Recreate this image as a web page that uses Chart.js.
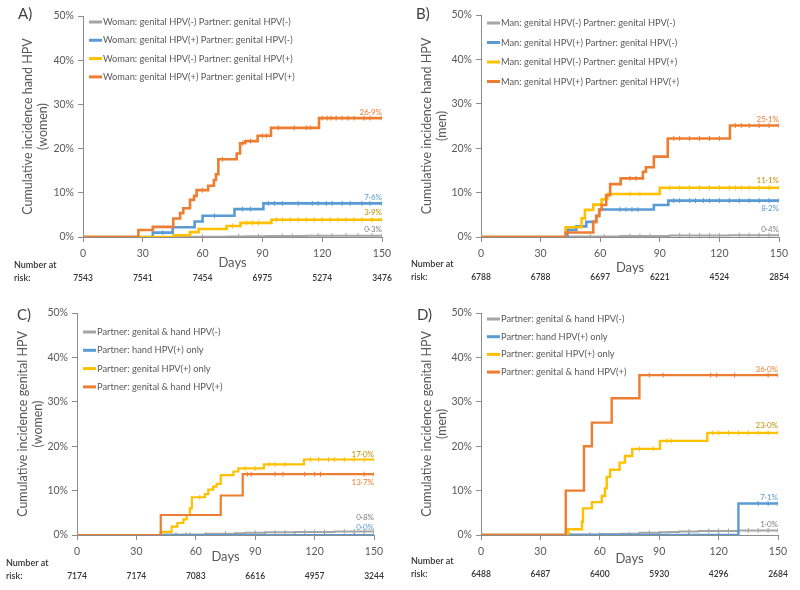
<!DOCTYPE html>
<html>
<head>
<meta charset="utf-8">
<title>Cumulative incidence of hand and genital HPV</title>
<script src="https://cdn.jsdelivr.net/npm/chart.js@4.4.1/dist/chart.umd.min.js"></script>
<style>
  body { margin: 0; background: #fff; width: 800px; height: 590px; position: relative; overflow: hidden; }
  .panel { position: absolute; width: 400px; height: 295px; }
</style>
</head>
<body>
<div class="panel" style="left:0;top:0"><canvas id="chartA"></canvas></div>
<div class="panel" style="left:400px;top:0"><canvas id="chartB"></canvas></div>
<div class="panel" style="left:0;top:295px"><canvas id="chartC"></canvas></div>
<div class="panel" style="left:400px;top:295px"><canvas id="chartD"></canvas></div>
<script>
// shared axis values
const dayTicks = [0, 30, 60, 90, 120, 150];
const pctTicks = [0, 10, 20, 30, 40, 50];

// A) women, hand HPV - [day, cumulative %]
const namesA = ['Woman: genital HPV(-) Partner: genital HPV(-)', 'Woman: genital HPV(+) Partner: genital HPV(-)',
                'Woman: genital HPV(-) Partner: genital HPV(+)', 'Woman: genital HPV(+) Partner: genital HPV(+)'];
const grayA = [[0,0],[45,0.05],[52,0.05],[60,0.05],[72,0.1],[78,0.1],[82,0.15],[88,0.15],[92,0.2],[96,0.25],[100,0.25],[105,0.25],
               [112,0.3],[118,0.3],[125,0.3],[132,0.3],[138,0.3],[145,0.3],[150,0.3]];
const blueA = [[0,0],[35,1.0],[40,1.0],[45,2.2],[56,3.5],[60,4.8],[66,4.8],[76,6.3],[80,6.3],[84,6.3],[90.5,7.6],[93,7.6],[96,7.6],
               [100,7.6],[108,7.6],[115,7.6],[118,7.6],[122,7.6],[125,7.6],[130,7.6],[134,7.6],[140,7.6],[144,7.6],[150,7.6]];
const yellowA = [[0,0],[45.5,0.4],[53.7,1.1],[58,1.8],[72,2.5],[75,2.5],[79,3.2],[82,3.2],[85,3.2],[88,3.2],[94.5,3.9],[97,3.9],
                 [100,3.9],[104,3.9],[108,3.9],[112,3.9],[116,3.9],[120,3.9],[124,3.9],[128,3.9],[132,3.9],[136,3.9],[140,3.9],[145,3.9],[150,3.9]];
const orangeA = [[0,0],[27.8,1.6],[35,2.3],[45.3,4.2],[48.7,5.4],[50.3,6.5],[53.7,8.4],[55.7,9.3],[57,10.6],[60,10.6],[62.8,11.6],
                 [65.7,12.9],[66.7,14.2],[67.9,17.6],[70,17.6],[77.1,18.9],[78.8,21.2],[80,21.2],[81.3,21.7],[84,21.7],[87.6,22.9],
                 [90,22.9],[92,22.9],[94.3,24.7],[98,24.7],[106,24.7],[112,24.7],[114,24.7],[118.4,26.9],[120,26.9],[122.5,26.9],
                 [124.5,26.9],[127,26.9],[130,26.9],[133,26.9],[136,26.9],[141,26.9],[144,26.9],[150,26.9]];
const endA = ['0·3%', '7·6%', '3·9%', '26·9%'];
const riskA = [7543, 7541, 7454, 6975, 5274, 3476];

// B) men, hand HPV
const namesB = ['Man: genital HPV(-) Partner: genital HPV(-)', 'Man: genital HPV(+) Partner: genital HPV(-)',
                'Man: genital HPV(-) Partner: genital HPV(+)', 'Man: genital HPV(+) Partner: genital HPV(+)'];
const grayB = [[0,0],[43,0.1],[55,0.1],[62,0.1],[70,0.2],[75,0.2],[80,0.2],[85,0.2],[95,0.35],[100,0.35],[105,0.35],[110,0.35],
               [115,0.35],[120,0.35],[125,0.4],[130,0.4],[135,0.4],[140,0.4],[145,0.4],[150,0.4]];
const blueB = [[0,0],[43.5,1.6],[48,2.4],[53,3.4],[58,4.8],[59.5,6.2],[70,6.2],[73,6.2],[76,6.2],[79,6.2],[87,7.2],[94.3,8.2],
               [97,8.2],[100,8.2],[105,8.2],[108,8.2],[112,8.2],[115,8.2],[120,8.2],[125,8.2],[130,8.2],[135,8.2],[140,8.2],[145,8.2],[150,8.2]];
const yellowB = [[0,0],[42.6,2.2],[50.6,4.2],[52.3,6.1],[56.5,7.3],[60.7,8.5],[63.6,9.7],[75,9.7],[80,9.7],[90,11.1],[95,11.1],
                 [100,11.1],[105,11.1],[110,11.1],[115,11.1],[120,11.1],[125,11.1],[128,11.1],[131,11.1],[135,11.1],[140,11.1],[145,11.1],[150,11.1]];
const orangeB = [[0,0],[42.6,1.0],[56.5,3.4],[58,4.7],[59.5,6.1],[60.7,7.2],[63,9.4],[65,11.9],[70.3,13.2],[75,13.2],[78,13.2],
                 [81.5,14.7],[83,15.7],[87,18.1],[94,22.2],[97,22.2],[100,22.2],[105,22.2],[110,22.2],[115,22.2],[120,22.2],
                 [125.3,25.1],[128,25.1],[131,25.1],[135,25.1],[140,25.1],[145,25.1],[150,25.1]];
const endB = ['0·4%', '8·2%', '11·1%', '25·1%'];
const riskB = [6788, 6788, 6697, 6221, 4524, 2854];

// C) women, genital HPV
const namesC = ['Partner: genital & hand HPV(-)', 'Partner: hand HPV(+) only', 'Partner: genital HPV(+) only', 'Partner: genital & hand HPV(+)'];
const grayC = [[0,0],[42,0.1],[50,0.1],[57,0.1],[65,0.3],[75,0.3],[80,0.4],[85,0.5],[90,0.5],[95,0.6],[100,0.6],[105,0.6],[110,0.7],
               [115,0.7],[120,0.7],[125,0.7],[130,0.8],[135,0.8],[140,0.8],[145,0.8],[150,0.8]];
const blueC = [[0,0],[42,0],[55,0],[65,0],[80,0],[95,0],[110,0],[125,0],[140,0],[150,0]];
const yellowC = [[0,0],[42.3,0.7],[47.8,1.9],[50.7,2.7],[53.7,3.5],[55.4,4.5],[57,6.0],[58,8.5],[62,8.5],[64.6,9.2],[66.3,10.2],
                 [68.8,10.9],[70.5,11.5],[72.6,13.5],[79,14.3],[81.5,15.0],[85,15.0],[90,15.0],[94.4,15.9],[97,15.9],[100,15.9],
                 [105,15.9],[114.6,17.0],[118,17.0],[122,17.0],[127,17.0],[130,17.0],[135,17.0],[140,17.0],[145,17.0],[150,17.0]];
const orangeC = [[0,0],[42.3,4.5],[72.6,8.9],[83.7,13.7],[86,13.7],[88,13.7],[100,13.7],[104,13.7],[115,13.7],[120,13.7],
                 [123,13.7],[145,13.7],[150,13.7]];
const endC = ['0·8%', '0·0%', '17·0%', '13·7%'];
const riskC = [7174, 7174, 7083, 6616, 4957, 3244];

// D) men, genital HPV
const namesD = namesC;
const grayD = [[0,0],[43,0.1],[55,0.1],[60,0.2],[70,0.3],[80,0.5],[85,0.5],[90,0.6],[95,0.7],[100,0.8],[105,0.8],[110,0.9],
               [115,0.9],[120,0.9],[125,0.9],[130,1.0],[135,1.0],[140,1.0],[145,1.0],[150,1.0]];
const blueD = [[0,0],[45,0],[60,0],[75,0],[90,0],[105,0],[120,0],[130,7.1],[140,7.1],[145,7.1],[150,7.1]];
const yellowD = [[0,0],[44,1.3],[51,3.0],[51.5,6.0],[56,7.4],[61,8.8],[62.6,10.5],[63.5,13.1],[65.2,14.7],[70,16.3],[72.7,17.8],
                 [76.4,19.4],[80,19.4],[87,19.4],[90.4,21.2],[94,21.2],[96,21.2],[114.3,23.0],[117,23.0],[120,23.0],[125,23.0],
                 [130,23.0],[135,23.0],[140,23.0],[145,23.0],[150,23.0]];
const orangeD = [[0,0],[42.8,10.0],[52,20.0],[56,25.3],[66,30.8],[80,36.0],[85,36.0],[92,36.0],[116,36.0],[119,36.0],[128,36.0],
                 [145,36.0],[150,36.0]];
const endD = ['1·0%', '7·1%', '23·0%', '36·0%'];
const riskD = [6488, 6487, 6400, 5930, 4296, 2684];

// styling
const lineColors = ['#A5A5A5', '#5B9BD5', '#FFC000', '#ED7D31'];
const endColors = ['#7F7F7F', '#5B9BD5', '#BF9000', '#ED7D31'];
const axisColor = '#8C8C8C';
const textColor = '#595959';
const FONT = 'Lato, "Open Sans", sans-serif';

// draws panel letter, legend, end labels, "Days" and the number-at-risk row
const extras = {
  id: 'extras',
  afterDraw(chart, args, o) {
    const { ctx, chartArea: a, scales: { x, y } } = chart;
    ctx.save();
    ctx.textBaseline = 'middle';

    ctx.fillStyle = '#404040';
    ctx.textAlign = 'left';
    ctx.font = '15px ' + FONT;
    ctx.fillText(o.letter, o.letterX, o.letterY);

    ctx.font = '9.3px ' + FONT;
    o.names.forEach((n, i) => {
      const yy = a.top + o.legendTop + i * o.legendGap;
      ctx.strokeStyle = lineColors[i];
      ctx.lineWidth = 3;
      ctx.beginPath();
      ctx.moveTo(a.left + 6, yy);
      ctx.lineTo(a.left + 19, yy);
      ctx.stroke();
      ctx.fillStyle = textColor;
      ctx.fillText(n, a.left + 20, yy);
    });

    ctx.font = '8px ' + FONT;
    ctx.textAlign = 'right';
    chart.data.datasets.forEach((ds, i) => {
      const last = ds.data[ds.data.length - 1];
      ctx.fillStyle = endColors[i];
      ctx.fillText(o.ends[i], a.right, y.getPixelForValue(last.y) + o.endDy[i]);
    });

    ctx.textAlign = 'center';
    ctx.fillStyle = textColor;
    ctx.font = '13px ' + FONT;
    ctx.fillText('Days', (a.left + a.right) / 2, a.bottom + o.daysDy);

    ctx.fillStyle = '#333';
    ctx.textAlign = 'left';
    ctx.font = '600 9px ' + FONT;
    ctx.fillText('Number at', o.riskX, a.bottom + o.riskDy - 13);
    ctx.fillText('risk:', o.riskX, a.bottom + o.riskDy);
    ctx.textAlign = 'center';
    ctx.font = '600 8.5px ' + FONT;
    o.risk.forEach((n, i) => {
      ctx.fillText(String(n), x.getPixelForValue(dayTicks[i]), a.bottom + o.riskDy);
    });
    ctx.restore();
  }
};

function makePanel(id, series, p) {
  const datasets = series.map((s, i) => ({
    data: s.map(d => ({ x: d[0], y: d[1] })),
    borderColor: lineColors[i],
    borderWidth: i === 0 ? 2 : p.lineW,
    stepped: true,
    fill: false,
    order: 4 - i,
    pointStyle: 'line',
    rotation: 90,
    pointBorderColor: lineColors[i],
    pointBorderWidth: 1,
    // small vertical tick where the curve stays flat (censored)
    pointRadius: c => {
      const d = c.dataset.data, k = c.dataIndex;
      return k > 0 && d[k].y === d[k - 1].y ? 2.5 : 0;
    }
  }));

  new Chart(document.getElementById(id), {
    type: 'line',
    data: { datasets },
    plugins: [extras],
    options: {
      responsive: true,
      maintainAspectRatio: false,
      animation: false,
      events: [],
      layout: { padding: { left: 0, top: p.top, right: p.right, bottom: p.bottom } },
      plugins: {
        legend: { display: false },
        tooltip: { enabled: false },
        extras: p
      },
      scales: {
        x: {
          type: 'linear', min: 0, max: 150,
          afterBuildTicks: s => { s.ticks = dayTicks.map(v => ({ value: v })); },
          afterFit: s => { s.height = 20; },
          border: { color: axisColor },
          grid: { drawOnChartArea: false, color: axisColor, tickLength: 5 },
          ticks: { color: textColor, font: { family: FONT, size: 10.5 }, padding: 5, maxRotation: 0 }
        },
        y: {
          min: 0, max: 50,
          afterBuildTicks: s => { s.ticks = pctTicks.map(v => ({ value: v })); },
          afterFit: s => { s.width = p.axisLeft; },
          border: { color: axisColor },
          grid: { drawOnChartArea: false, color: axisColor, tickLength: 5 },
          ticks: { color: textColor, font: { family: FONT, size: 10.5 }, padding: 4, callback: v => v + '%' },
          title: {
            display: true, text: p.yTitle, color: textColor,
            font: { family: FONT, size: 12.5 }, padding: { top: p.titlePad, bottom: 0 }
          }
        }
      }
    }
  });
}

makePanel('chartA', [grayA, blueA, yellowA, orangeA], {
  letter: 'A)', letterX: 18, letterY: 14, names: namesA, ends: endA, risk: riskA,
  endDy: [-6, -6, -7, -6], yTitle: ['Cumulative incidence hand HPV', '(women)'],
  axisLeft: 83, top: 16, right: 18, bottom: 38, titlePad: 20, lineW: 2.6,
  legendTop: 6, legendGap: 18.3, daysDy: 26, riskX: 14, riskDy: 41
});
makePanel('chartB', [grayB, blueB, yellowB, orangeB], {
  letter: 'B)', letterX: 16, letterY: 14, names: namesB, ends: endB, risk: riskB,
  endDy: [-6, 8, -7, -6], yTitle: ['Cumulative incidence hand HPV', '(men)'],
  axisLeft: 81, top: 15, right: 21, bottom: 38, titlePad: 19, lineW: 2.6,
  legendTop: 8, legendGap: 19.5, daysDy: 31, riskX: 11, riskDy: 40
});
makePanel('chartC', [grayC, blueC, yellowC, orangeC], {
  letter: 'C)', letterX: 17, letterY: 20, names: namesC, ends: endC, risk: riskC,
  endDy: [-14, -8, -5, 8], yTitle: ['Cumulative incidence genital HPV', '(women)'],
  axisLeft: 77, top: 18, right: 26, bottom: 35, titlePad: 15, lineW: 2.2,
  legendTop: 19, legendGap: 18.3, daysDy: 22, riskX: 6, riskDy: 41
});
makePanel('chartD', [grayD, blueD, yellowD, orangeD], {
  letter: 'D)', letterX: 17, letterY: 20, names: namesD, ends: endD, risk: riskD,
  endDy: [-6, -6, -7, -6], yTitle: ['Cumulative incidence genital HPV', '(men)'],
  axisLeft: 81, top: 18, right: 22, bottom: 35, titlePad: 19, lineW: 2.4,
  legendTop: 6, legendGap: 17.7, daysDy: 24, riskX: 11, riskDy: 39
});
</script>
</body>
</html>
